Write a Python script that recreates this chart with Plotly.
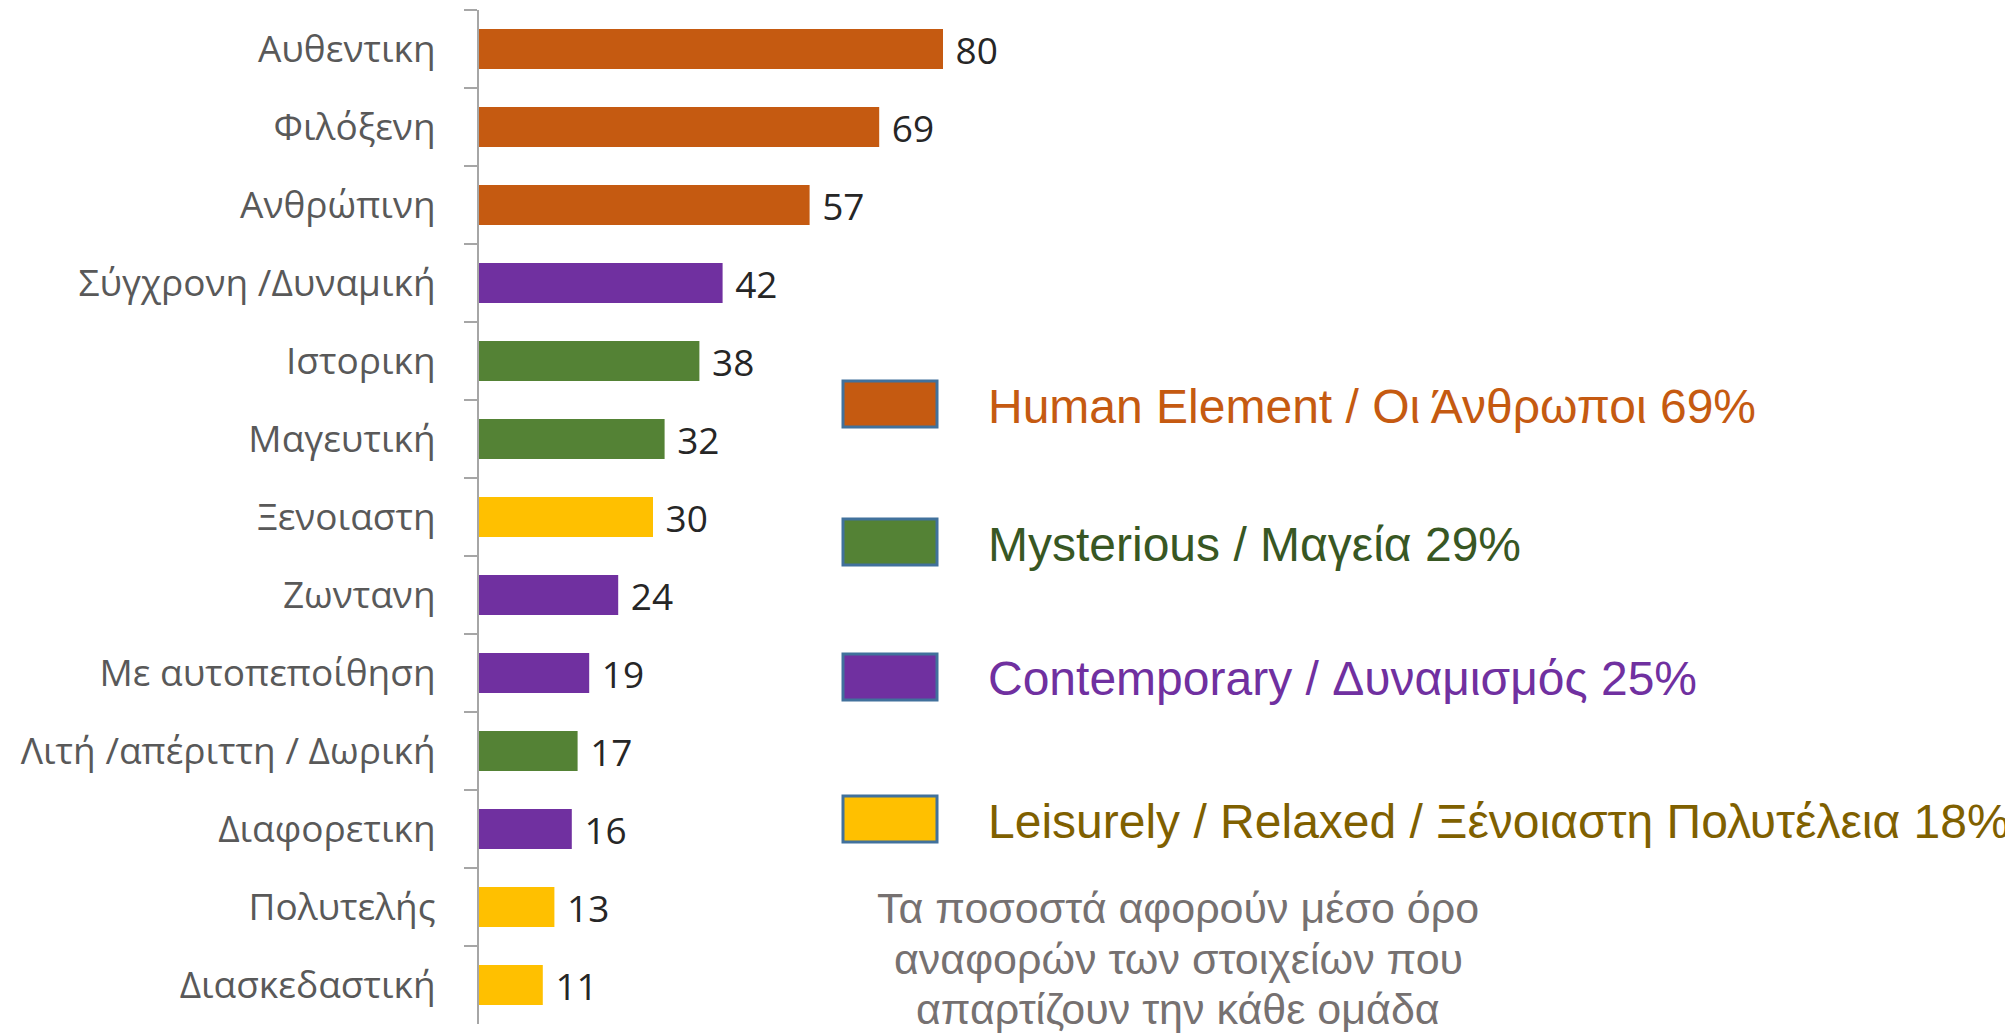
import plotly.graph_objects as go

# data, top to bottom
labels = ["Αυθεντικη", "Φιλόξενη", "Ανθρώπινη", "Σύγχρονη /Δυναμική", "Ιστορικη",
          "Μαγευτική", "Ξενοιαστη", "Ζωντανη", "Με αυτοπεποίθηση",
          "Λιτή /απέριττη / Δωρική", "Διαφορετικη", "Πολυτελής", "Διασκεδαστική"]
values = [80, 69, 57, 42, 38, 32, 30, 24, 19, 17, 16, 13, 11]
groups = ["human", "human", "human", "contemp", "myst", "myst", "leis", "contemp",
          "contemp", "myst", "contemp", "leis", "leis"]

group_names = ["human", "myst", "contemp", "leis"]
group_labels = ["Human Element / Οι Άνθρωποι 69%", "Mysterious / Μαγεία 29%",
                "Contemporary / Δυναμισμός 25%",
                "Leisurely / Relaxed / Ξένοιαστη Πολυτέλεια 18%"]
bar_colors = {"human": "#C55A11", "myst": "#548235", "contemp": "#7030A0", "leis": "#FFC000"}
text_colors = {"human": "#C55A11", "myst": "#385723", "contemp": "#7030A0", "leis": "#7F6000"}

note_lines = ["Τα ποσοστά αφορούν μέσο όρο", "αναφορών των στοιχείων που",
              "απαρτίζουν την κάθε ομάδα"]

# page has an 8px body margin, so the figure sits at (8, 8)
OFF = 8
W, H = 2013 - OFF, 1034 - OFF
L, T, B = 479 - OFF, 10 - OFF, 10


def px(x, y):
    # page pixel position -> paper coords
    x, y = x - OFF, y - OFF
    return (x - L) / (W - L), (H - B - y) / (H - T - B)


fig = go.Figure(go.Bar(
    x=values, y=labels, orientation="h",
    marker=dict(color=[bar_colors[g] for g in groups], line_width=0),
    text=[" " + str(v) for v in values], textposition="outside", constraintext="none",
    textfont=dict(family="Open Sans", size=37, color="#262626"),
    cliponaxis=False, hoverinfo="skip",
))

shapes, annos = [], []
box_y = [404, 542, 677, 819]
for g, lab, cy in zip(group_names, group_labels, box_y):
    x0, y0 = px(843, cy - 23)
    x1, y1 = px(937, cy + 23)
    shapes.append(dict(type="rect", xref="paper", yref="paper", x0=x0, x1=x1, y0=y1, y1=y0,
                       fillcolor=bar_colors[g], line=dict(color="#41719C", width=3)))
    tx, ty = px(986, cy + 2)
    annos.append(dict(xref="paper", yref="paper", x=tx, y=ty, text=lab, showarrow=False,
                      xanchor="left", yanchor="middle",
                      font=dict(family="Liberation Sans", size=48, color=text_colors[g])))

for line, ly in zip(note_lines, [908, 959, 1009]):
    nx, ny = px(1178, ly)
    annos.append(dict(xref="paper", yref="paper", x=nx, y=ny, text=line, showarrow=False,
                      xanchor="center", yanchor="middle",
                      font=dict(family="Liberation Sans", size=43, color="#767171")))

fig.update_layout(
    width=W, height=H,
    margin=dict(l=L, r=0, t=T, b=B),
    plot_bgcolor="white", paper_bgcolor="white",
    bargap=0.487, showlegend=False,
    shapes=shapes, annotations=annos,
    xaxis=dict(range=[0, (W - L) / 5.8], visible=False),
    yaxis=dict(autorange="reversed", showline=True, linecolor="#A6A6A6", linewidth=2,
               ticks="outside", ticklen=13, tickcolor="#A6A6A6", tickwidth=2,
               tickson="boundaries", ticklabelstandoff=34,
               tickfont=dict(family="Open Sans", size=37, color="#595959"),
               showgrid=False, zeroline=False),
)

fig.write_html("out.html")
